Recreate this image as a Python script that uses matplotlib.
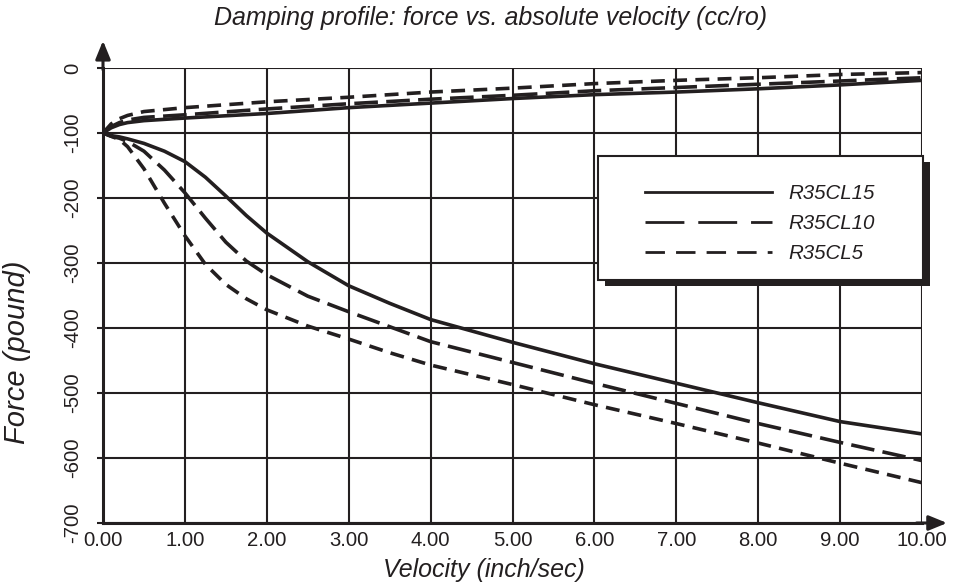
import matplotlib.pyplot as plt
from matplotlib.lines import Line2D
from matplotlib.patches import Rectangle

plt.rcParams["font.family"] = ["Liberation Sans", "DejaVu Sans"]
plt.rcParams["lines.scale_dashes"] = False

tinta = "#231f20"

# Datos
series = ["R35CL15", "R35CL10", "R35CL5"]

# Rama superior (extension)
velocidad_sup = [0, 0.1, 0.2, 0.3, 0.5, 1, 2, 3, 4, 5, 6, 7, 8, 9, 10]
sup_cl15 = [-100, -92, -87, -84, -81, -77, -70, -61, -54, -47, -41, -37, -32, -26, -19]
sup_cl10 = [-100, -90, -84, -80, -76, -72, -63, -55, -48, -42, -35, -30, -25, -20, -15]
sup_cl5 = [-100, -86, -78, -73, -67, -61, -52, -45, -37, -31, -24, -19, -15, -10, -7]

# Rama inferior (compresion)
velocidad_inf = [0, 0.1, 0.2, 0.3, 0.5, 0.75, 1, 1.25, 1.5, 1.75, 2, 2.5, 3, 3.5, 4, 5, 6, 7, 8, 9, 10]
inf_cl15 = [-100, -104, -106, -109, -116, -128, -144, -168, -197, -227, -254, -298, -335, -362, -387,
            -422, -455, -485, -515, -544, -563]
inf_cl10 = [-100, -105, -108, -113, -128, -157, -192, -231, -268, -297, -318, -351, -375, -398, -421,
            -453, -485, -516, -547, -576, -604]
inf_cl5 = [-100, -105, -110, -121, -155, -208, -258, -302, -333, -355, -372, -397, -417, -438, -457,
           -487, -518, -547, -577, -608, -638]

ticks_x = [0, 1, 2, 3, 4, 5, 6, 7, 8, 9, 10]
etiquetas_x = ["0.00", "1.00", "2.00", "3.00", "4.00", "5.00", "6.00", "7.00", "8.00", "9.00", "10.00"]
ticks_y = [-700, -600, -500, -400, -300, -200, -100, 0]
etiquetas_y = ["-700", "-600", "-500", "-400", "-300", "-200", "-100", "0"]

estilos = {
    "R35CL15": "-",
    "R35CL10": (0, (17, 6)),
    "R35CL5": (0, (10, 6)),
}
estilos_leyenda = {
    "R35CL15": "-",
    "R35CL10": (0, (28, 10)),
    "R35CL5": (0, (14, 8)),
}

fig = plt.figure(figsize=(9.75, 5.85), dpi=100)
ax = fig.add_axes([103 / 975, 1 - 523 / 585, 819 / 975, 455 / 585])

datos = [
    ("R35CL15", sup_cl15, inf_cl15),
    ("R35CL10", sup_cl10, inf_cl10),
    ("R35CL5", sup_cl5, inf_cl5),
]
for nombre, sup, inf in datos:
    ax.plot(velocidad_sup, sup, color=tinta, lw=2.6, linestyle=estilos[nombre], zorder=3)
    ax.plot(velocidad_inf, inf, color=tinta, lw=2.6, linestyle=estilos[nombre], zorder=3)

ax.set_xlim(0, 10)
ax.set_ylim(-700, 0)
ax.set_xticks(ticks_x)
ax.set_xticklabels(etiquetas_x)
ax.set_yticks(ticks_y)
ax.set_yticklabels(etiquetas_y, rotation=90, va="center")
ax.tick_params(axis="x", length=0, pad=6, labelsize=14.6, colors=tinta)
ax.tick_params(axis="y", length=4, width=1.5, pad=11, labelsize=14.6, colors=tinta)
ax.grid(True, color=tinta, lw=1.5)
ax.set_axisbelow(True)

for lado in ["top", "right"]:
    ax.spines[lado].set_visible(False)
for lado in ["left", "bottom"]:
    ax.spines[lado].set_linewidth(2.2)
    ax.spines[lado].set_color(tinta)
    ax.spines[lado].set_zorder(4)

# Flechas de los ejes
ax.annotate("", xy=(0, 1.066), xytext=(0, 0.99), xycoords="axes fraction",
            arrowprops=dict(arrowstyle="-|>,head_length=1.1,head_width=0.45", color=tinta, lw=2.2))
ax.annotate("", xy=(1.034, 0), xytext=(0.99, 0), xycoords="axes fraction",
            arrowprops=dict(arrowstyle="-|>,head_length=1.1,head_width=0.45", color=tinta, lw=2.2))

# Textos
fig.text(491 / 975, 1 - 18 / 585, "Damping profile: force vs. absolute velocity (cc/ro)",
         ha="center", va="center", fontsize=18, style="italic", color=tinta)
ax.set_xlabel("Velocity (inch/sec)", fontsize=18, style="italic", color=tinta)
ax.xaxis.set_label_coords((484 - 103) / 819, (523 - 570) / 455)
ax.xaxis.label.set_va("center")
ax.set_ylabel("Force (pound)", fontsize=21, style="italic", color=tinta)
ax.yaxis.set_label_coords((17 - 103) / 819, (523 - 352) / 455)
ax.yaxis.label.set_va("center")

# Caja de la leyenda con sombra
x0, y0 = (598 - 103) / 819, (523 - 280) / 455
ancho, alto = 325 / 819, 124 / 455
ax.add_patch(Rectangle((x0 + 7 / 819, y0 - 6 / 455), ancho, alto, transform=ax.transAxes,
                       facecolor=tinta, edgecolor=tinta, lw=0, zorder=5, clip_on=False))
ax.add_patch(Rectangle((x0, y0), ancho, alto, transform=ax.transAxes,
                       facecolor="white", edgecolor=tinta, lw=1.5, zorder=6, clip_on=False))

manejadores = [Line2D([0], [0], color=tinta, lw=2.0, linestyle=estilos_leyenda[s]) for s in series]
leyenda = ax.legend(manejadores, series, loc="upper left",
                    bbox_to_anchor=((645 - 103) / 819, (523 - 184) / 455),
                    frameon=False, borderpad=0, borderaxespad=0, handlelength=6.2,
                    handletextpad=0.78, labelspacing=0.54, prop={"size": 14.8, "style": "italic"})
leyenda.set_zorder(7)
for texto in leyenda.get_texts():
    texto.set_color(tinta)

plt.savefig("out.png", dpi=100)
